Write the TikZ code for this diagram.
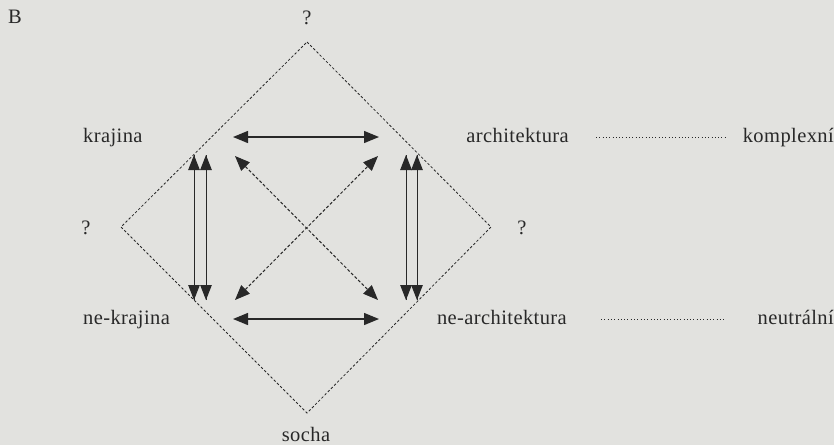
\documentclass[tikz,border=0pt]{standalone}
\usepackage{fontspec}
\setmainfont{Liberation Serif}[LetterSpace=2]
\usetikzlibrary{arrows.meta}
\definecolor{paper}{RGB}{226,226,223}
\definecolor{ink}{RGB}{40,40,40}
\begin{document}
\begin{tikzpicture}[x=1pt,y=-1pt,
  lbl/.style={text=ink,font=\fontsize{20.5}{22}\selectfont,inner sep=0pt,anchor=base},
  dia/.style={ink,line width=0.8pt,dash pattern=on 2.5pt off 2pt},
  harrow/.style={ink,line width=1.3pt,{Triangle[length=15pt,width=12pt]}-{Triangle[length=15pt,width=12pt]}},
  varrow/.style={ink,line width=1pt,-{Triangle[length=15pt,width=11.5pt]}},
  darrow/.style={ink,line width=1pt,dash pattern=on 3pt off 2pt,{Triangle[length=15pt,width=12pt]}-{Triangle[length=15pt,width=12pt]}},
  dotline/.style={ink,line width=0.7pt,dash pattern=on 0.7pt off 2.6pt}]
\fill[paper] (0,0) rectangle (834,445);
\useasboundingbox (0,0) rectangle (834,445);
% labels
\node[lbl,anchor=base west] (B) at (8,23) {B};
\node[lbl] (qt) at (307,24) {?};
\node[lbl] (ql) at (86,234) {?};
\node[lbl] (qr) at (522,234) {?};
\node[lbl,anchor=base west] (kraj) at (83,142) {krajina};
\node[lbl,anchor=base east] (arch) at (569,142) {architektura};
\node[lbl,anchor=base east] (komp) at (834,142) {komplexní};
\node[lbl,anchor=base west] (nkraj) at (83,324) {ne-krajina};
\node[lbl,anchor=base east] (narch) at (567,324) {ne-architektura};
\node[lbl,anchor=base east] (neut) at (834,324) {neutrální};
\node[lbl] (socha) at (306,441) {socha};
% diamond
\coordinate (dt) at (307,42);
\coordinate (dl) at (121,227);
\coordinate (dr) at (491,227);
\coordinate (db) at (307,413);
\draw[dia] (dt) -- (dr) -- (db) -- (dl) -- cycle;
% arrow end points
\coordinate (tl) at (233,137);
\coordinate (tr) at (379,137);
\coordinate (bl) at (233,319);
\coordinate (br) at (379,319);
\draw[harrow] (tl) -- (tr);
\draw[harrow] (bl) -- (br);
\coordinate (lv1t) at (194,155);
\coordinate (lv1b) at (194,300);
\coordinate (lv2t) at (206,155);
\coordinate (lv2b) at (206,300);
\coordinate (rv1t) at (406,155);
\coordinate (rv1b) at (406,300);
\coordinate (rv2t) at (417,155);
\coordinate (rv2b) at (417,300);
\draw[varrow] (lv1b) -- (lv1t);
\draw[varrow] (lv2t) -- (lv2b);
\draw[varrow] (lv1t) -- (lv1b);
\draw[varrow] (lv2b) -- (lv2t);
\draw[varrow] (rv1b) -- (rv1t);
\draw[varrow] (rv2t) -- (rv2b);
\draw[varrow] (rv1t) -- (rv1b);
\draw[varrow] (rv2b) -- (rv2t);
\coordinate (d1a) at (235,156);
\coordinate (d1b) at (378,300);
\coordinate (d2a) at (235,300);
\coordinate (d2b) at (378,156);
\draw[darrow] (d1a) -- (d1b);
\draw[darrow] (d2a) -- (d2b);
% dotted links
\coordinate (t1) at (596,137);
\coordinate (t2) at (725,137);
\coordinate (b1) at (601,319);
\coordinate (b2) at (725,319);
\draw[dotline] (t1) -- (t2);
\draw[dotline] (b1) -- (b2);
\end{tikzpicture}
\end{document}
